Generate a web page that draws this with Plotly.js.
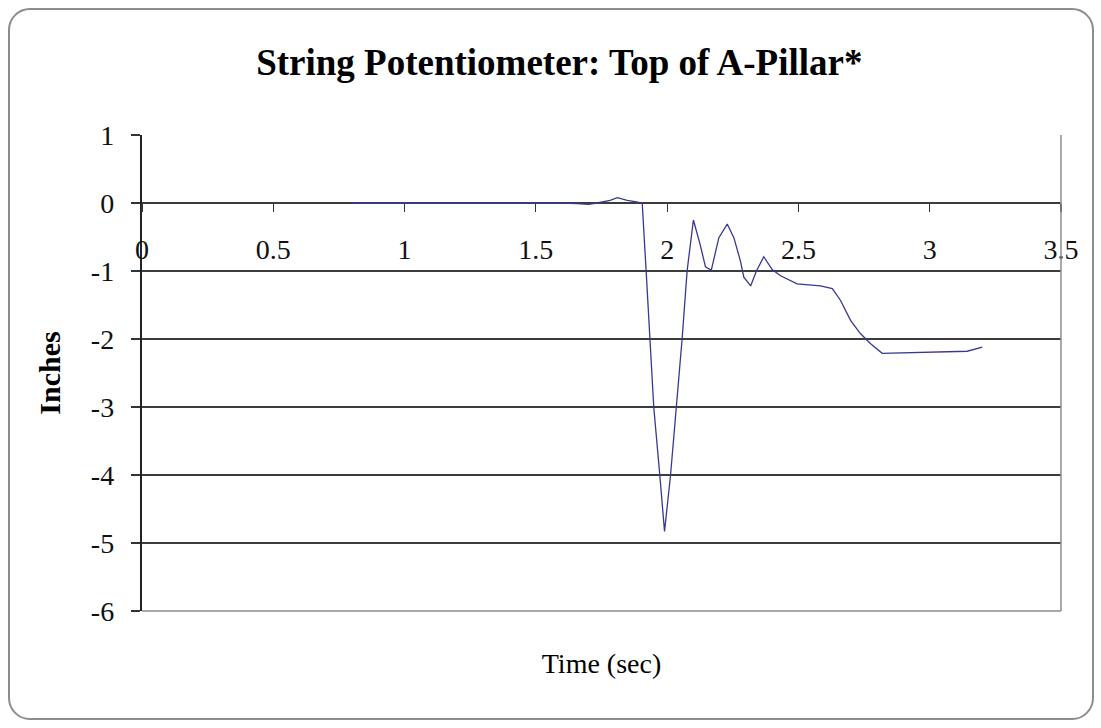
<!DOCTYPE html>
<html>
<head>
<meta charset="utf-8">
<script src="https://cdn.plot.ly/plotly-3.0.1.min.js"></script>
<style>
  html, body { margin: 0; padding: 0; background: #fff; }
  #wrap { position: relative; width: 1101px; height: 728px; }
  #chart { width: 1101px; height: 728px; }
  #frame { position: absolute; left: 8px; top: 8px; width: 1086px; height: 712px;
           border: 2px solid #8c8c8c; border-radius: 22px; pointer-events: none; box-sizing: border-box; }
</style>
</head>
<body>
<div id="wrap">
  <div id="chart"></div>
  <div id="frame"></div>
</div>
<script>
// Time (sec)
const timeSec = [0.80, 0.90, 1.00, 1.10, 1.20, 1.30, 1.40, 1.50, 1.60, 1.657, 1.70, 1.733, 1.783, 1.81, 1.848, 1.878, 1.897, 1.905,
  1.92, 1.934, 1.949, 1.972, 1.99, 2.013, 2.036, 2.057, 2.076, 2.10, 2.125, 2.146, 2.168, 2.197, 2.229, 2.254, 2.279, 2.292, 2.318,
  2.34, 2.368, 2.40, 2.432, 2.495, 2.584, 2.629, 2.66, 2.699, 2.736, 2.775, 2.819, 2.978, 3.143, 3.20];
// Displacement (inches)
const inches = [0.00, 0.00, 0.01, 0.01, 0.00, 0.00, 0.00, 0.00, 0.00, -0.01, -0.02, 0.00, 0.04, 0.08, 0.04, 0.02, 0.01, 0.00,
  -1.00, -2.00, -3.00, -4.00, -4.83, -4.00, -3.00, -2.00, -1.00, -0.25, -0.60, -0.94, -0.99, -0.51, -0.31, -0.51, -0.85, -1.09, -1.22,
  -1.00, -0.79, -0.98, -1.07, -1.19, -1.22, -1.26, -1.43, -1.73, -1.92, -2.07, -2.21, -2.20, -2.18, -2.12];

const xTicks = [0, 0.5, 1, 1.5, 2, 2.5, 3, 3.5];
const xTickText = ['0', '0.5', '1', '1.5', '2', '2.5', '3', '3.5'];
const yTicks = [1, 0, -1, -2, -3, -4, -5, -6];
const yTickText = ['1', '0', '-1', '-2', '-3', '-4', '-5', '-6'];

const titleText = 'String Potentiometer: Top of A-Pillar*';
const xTitle = 'Time (sec)';
const yTitle = 'Inches';

const serif = 'Liberation Serif, Times New Roman, serif';

const trace = {
  x: timeSec, y: inches, type: 'scatter', mode: 'lines',
  line: { color: '#383894', width: 1.3 },
  xaxis: 'x', yaxis: 'y', showlegend: false, hoverinfo: 'x+y'
};

const layout = {
  width: 1101, height: 728,
  paper_bgcolor: 'rgba(0,0,0,0)', plot_bgcolor: '#ffffff',
  margin: { l: 142, r: 40, t: 135, b: 117 },
  showlegend: false,
  font: { family: serif, color: '#000', size: 20 },
  title: { text: '<b>' + titleText + '</b>', x: 0.508, xref: 'container', xanchor: 'center',
           y: 1 - 62 / 728, yref: 'container', yanchor: 'middle',
           font: { family: serif, size: 37, color: '#000' } },
  xaxis: {
    range: [0, 3.5], showgrid: false, zeroline: false, showline: false,
    showticklabels: false, ticks: '', anchor: 'y',
    title: { text: xTitle, standoff: 42, font: { family: serif, size: 28 } },
    fixedrange: true
  },
  xaxis2: {
    range: [0, 3.5], overlaying: 'x', anchor: 'free', position: 6 / 7, side: 'bottom',
    tickvals: xTicks, ticktext: xTickText, ticks: 'outside', ticklen: 8, tickwidth: 1.2, tickcolor: '#333',
    ticklabelstandoff: 13, showgrid: false, zeroline: false, showline: false,
    tickfont: { family: serif, size: 28, color: '#111' }, fixedrange: true
  },
  yaxis: {
    range: [-6, 1], tickvals: yTicks, ticktext: yTickText, ticks: 'outside', ticklen: 9, tickwidth: 1.2, tickcolor: '#333',
    showgrid: true, gridcolor: '#3c3c3c', gridwidth: 1.3, zeroline: false,
    showline: true, linecolor: '#222', linewidth: 2.2,
    ticklabelstandoff: 11,
    tickfont: { family: serif, size: 28, color: '#111' },
    title: { text: '<b>' + yTitle + '</b>', standoff: 21, font: { family: serif, size: 30 } },
    automargin: false, fixedrange: true
  },
  shapes: [
    { type: 'line', xref: 'paper', yref: 'paper', x0: 1, x1: 1, y0: 0, y1: 1,
      line: { color: '#8c8c8c', width: 1.5 }, layer: 'above' },
    { type: 'line', xref: 'paper', yref: 'paper', x0: 0, x1: 1, y0: 0, y1: 0,
      line: { color: '#8c8c8c', width: 1.5 }, layer: 'below' }
  ]
};

const traces = [trace, { x: [], y: [], xaxis: 'x2', yaxis: 'y', type: 'scatter', mode: 'lines', showlegend: false }];

Plotly.newPlot('chart', traces, layout, { displayModeBar: false, staticPlot: true });
</script>
</body>
</html>
